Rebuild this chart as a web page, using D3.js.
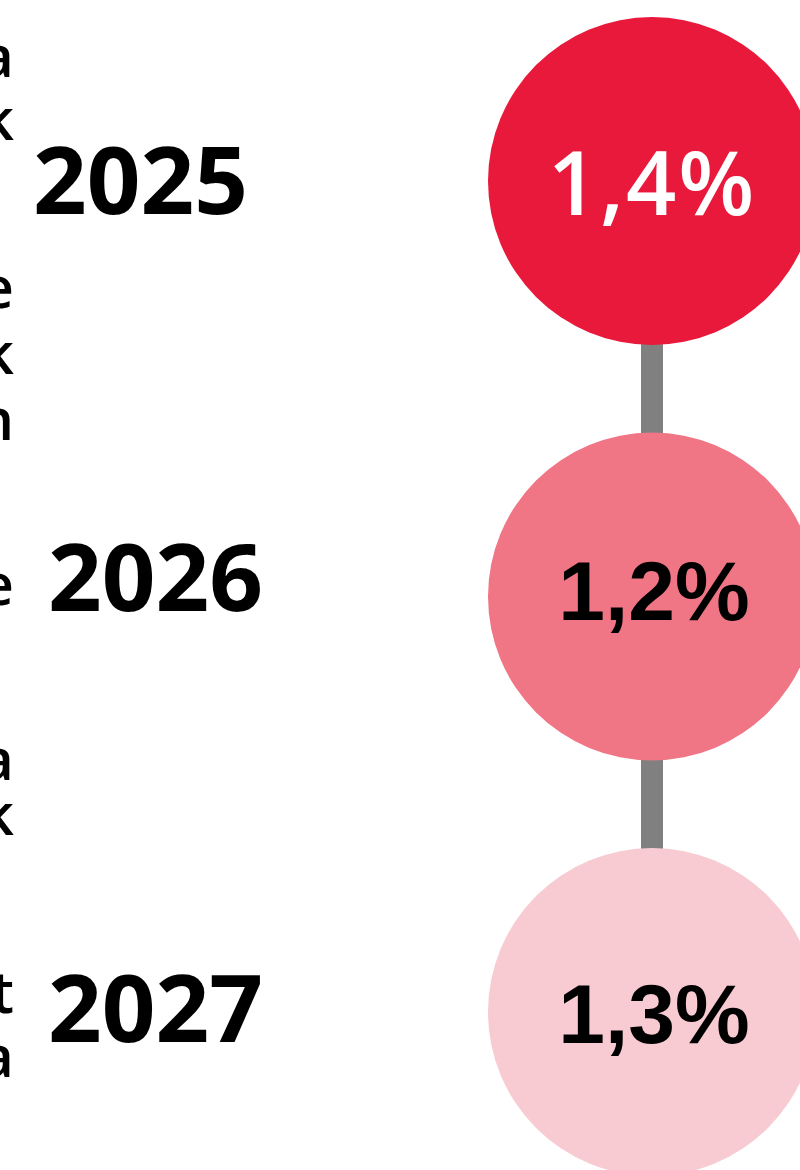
<!DOCTYPE html>
<html>
<head>
<meta charset="utf-8">
<script src="https://cdn.jsdelivr.net/npm/d3@7"></script>
<style>
  html, body { margin: 0; padding: 0; background: #ffffff; overflow: hidden; }
  svg { display: block; }
</style>
</head>
<body>
<script>
// ---- data ----
const years = ["2025", "2026", "2027"];
const values = [1.4, 1.2, 1.3];
// clipped tails of a text column at the left edge (letters only)
const edgeLetters = ["a", "k", "e", "k", "n", "e", "a", "k", "t", "a"];

// ---- layout ----
const W = 800, H = 1170;
const svg = d3.select("body").append("svg").attr("width", W).attr("height", H);

const y = d3.scalePoint().domain(years).range([181, 1012]);
const cx = 652, r = 164;
const fill = d3.scaleOrdinal().domain(years).range(["#E8193A", "#F07585", "#F8CBD3"]);
const textFill = d3.scaleOrdinal().domain(years).range(["#ffffff", "#000000", "#000000"]);
const fmt = v => d3.format(".1f")(v).replace(".", ",") + "%";

// connectors
svg.selectAll("rect.conn").data(d3.pairs(years)).join("rect")
  .attr("class", "conn")
  .attr("x", cx - 11).attr("width", 22)
  .attr("y", d => y(d[0]) + r - 2)
  .attr("height", d => y(d[1]) - y(d[0]) - 2 * r + 4)
  .attr("fill", "#808080");

// circles
svg.selectAll("circle.node").data(years).join("circle")
  .attr("class", "node")
  .attr("cx", cx).attr("cy", d => y(d)).attr("r", r)
  .attr("fill", d => fill(d));

// value labels
svg.selectAll("text.val").data(years).join("text")
  .attr("class", "val")
  .attr("x", (d, i) => i === 0 ? cx : cx + 2)
  .attr("y", (d, i) => y(d) + (i === 0 ? 34 : i === 1 ? 23 : 31))
  .attr("text-anchor", "middle")
  .attr("font-family", (d, i) => i === 0 ? "'Open Sans', sans-serif" : "'Liberation Sans', Arial, sans-serif")
  .attr("font-weight", (d, i) => i === 0 ? 600 : 700)
  .attr("font-size", (d, i) => i === 0 ? 88 : 84)
  .attr("letter-spacing", (d, i) => i === 0 ? 2 : 0)
  .attr("fill", d => textFill(d))
  .text((d, i) => fmt(values[i]));

// year labels
svg.selectAll("text.year").data(years).join("text")
  .attr("class", "year")
  .attr("x", (d, i) => i === 0 ? 33 : 48)
  .attr("y", (d, i) => y(d) + (i === 0 ? 33 : i === 1 ? 14 : 30))
  .attr("font-family", "'Open Sans', sans-serif")
  .attr("font-weight", 700)
  .attr("font-size", 94)
  .attr("fill", "#000000")
  .text(d => d);

// clipped letters at the left edge
const edgeBase = [77, 140, 308, 374, 440, 605, 780, 835, 1013, 1077];
svg.selectAll("text.edge").data(edgeLetters).join("text")
  .attr("class", "edge")
  .attr("x", 14)
  .attr("y", (d, i) => edgeBase[i])
  .attr("text-anchor", "end")
  .attr("font-family", "'Open Sans', sans-serif")
  .attr("font-weight", 600)
  .attr("font-size", 58)
  .attr("fill", "#000000")
  .text(d => d);
</script>
</body>
</html>
